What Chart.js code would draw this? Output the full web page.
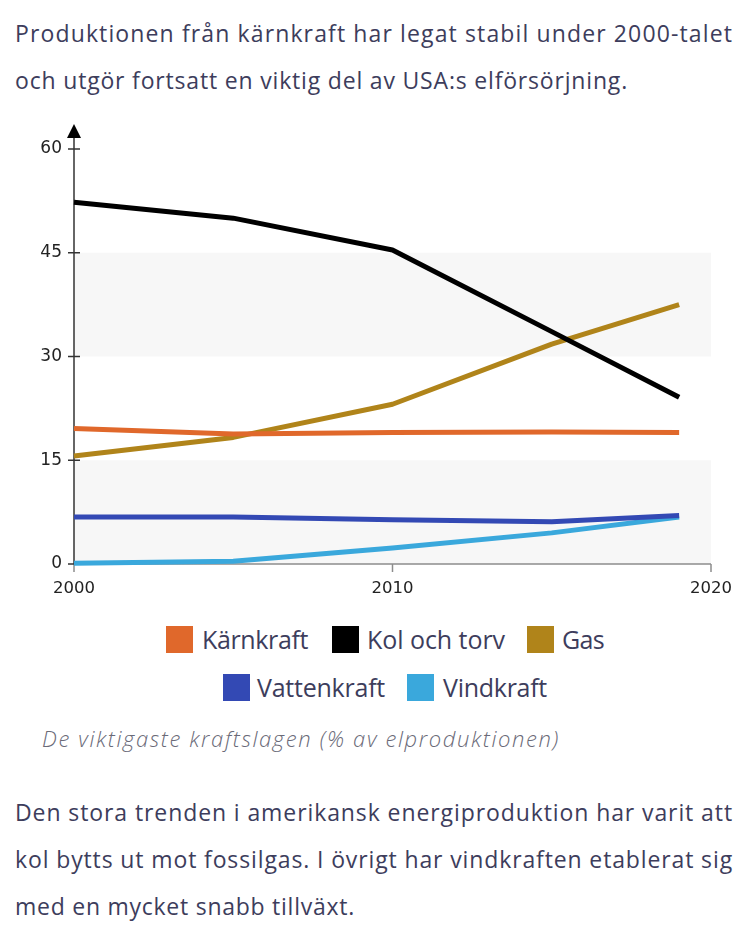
<!DOCTYPE html>
<html>
<head>
<meta charset="utf-8">
<script src="https://cdn.jsdelivr.net/npm/chart.js@4"></script>
<style>
  html,body{margin:0;padding:0;background:#fff;}
  body{width:750px;height:941px;position:relative;overflow:hidden;font-family:"Open Sans",sans-serif;color:#3d3d5c;}
  .line{position:absolute;left:15px;white-space:nowrap;font-size:23px;line-height:30px;}
  .cap{position:absolute;left:42px;white-space:nowrap;font-size:22px;font-style:italic;font-weight:300;color:#6a6a78;line-height:30px;}
  #chartBox{position:absolute;left:0;top:110px;width:750px;height:500px;}
  .legbox{position:absolute;width:27px;height:27px;}
  .legtxt{position:absolute;white-space:nowrap;font-size:25px;line-height:30px;}
</style>
</head>
<body>
<div class="line fit" data-w="718" style="top:18px">Produktionen från kärnkraft har legat stabil under 2000-talet</div>
<div class="line fit" data-w="613" style="top:65px">och utgör fortsatt en viktig del av USA:s elförsörjning.</div>
<div id="chartBox"><canvas id="c" width="750" height="500"></canvas></div>
<div id="legend"></div>
<div class="cap fit" data-w="518" style="top:723px">De viktigaste kraftslagen (% av elproduktionen)</div>
<div class="line fit" data-w="718" style="top:797px">Den stora trenden i amerikansk energiproduktion har varit att</div>
<div class="line fit" data-w="718" style="top:844px">kol bytts ut mot fossilgas. I övrigt har vindkraften etablerat sig</div>
<div class="line fit" data-w="340" style="top:891px">med en mycket snabb tillväxt.</div>
<script>
const years = [2000, 2005, 2010, 2015, 2019];
const seriesNames = ["Kärnkraft", "Kol och torv", "Gas", "Vattenkraft", "Vindkraft"];
const karnkraft = [19.6, 18.8, 19.0, 19.1, 19.0];
const kol = [52.3, 50.0, 45.4, 33.6, 24.1];
const gas = [15.6, 18.3, 23.1, 31.8, 37.5];
const vattenkraft = [6.8, 6.8, 6.4, 6.1, 7.0];
const vindkraft = [0.1, 0.4, 2.3, 4.5, 6.8];
const xTicks = [2000, 2010, 2020];
const yTicks = [0, 15, 30, 45, 60];
const colors = ["#e0682b", "#000000", "#b0841a", "#3349b4", "#3aa8dc"];

const allSeries = [karnkraft, kol, gas, vattenkraft, vindkraft];

// legend layout (box left, text left, text width, row top)
const legendLayout = [
  [166, 202, 106, 626],
  [332, 367, 138, 626],
  [527, 562, 42, 626],
  [223, 257, 128, 674],
  [407, 443, 104, 674]
];
const legend = document.getElementById('legend');
legendLayout.forEach(([bx, tx, tw, top], i) => {
  const b = document.createElement('div'); b.className = 'legbox';
  b.style.left = bx + 'px'; b.style.top = top + 'px'; b.style.background = colors[i];
  const t = document.createElement('div'); t.className = 'legtxt fit';
  t.dataset.w = tw; t.style.left = tx + 'px'; t.style.top = (top - 2) + 'px';
  t.textContent = seriesNames[i];
  legend.appendChild(b); legend.appendChild(t);
});

// fit text lines to target widths via letter-spacing
document.querySelectorAll('.fit').forEach(el => {
  const target = +el.dataset.w;
  const w = el.getBoundingClientRect().width;
  const n = el.textContent.length;
  el.style.letterSpacing = ((target - w) / n) + 'px';
});

const decor = {
  id:'decor',
  beforeDatasetsDraw(chart){
    const {ctx, chartArea:a, scales:{x,y}} = chart;
    ctx.save();
    ctx.fillStyle = '#f7f7f7';
    [[0,15],[30,45]].forEach(([lo,hi])=>{
      const y1 = y.getPixelForValue(hi), y0 = y.getPixelForValue(lo);
      ctx.fillRect(a.left, y1, a.right - a.left, y0 - y1);
    });
    // x axis
    ctx.strokeStyle = '#8c8c8c'; ctx.lineWidth = 1.5;
    ctx.beginPath(); ctx.moveTo(a.left, a.bottom); ctx.lineTo(a.right, a.bottom); ctx.stroke();
    xTicks.forEach(v=>{
      const px = x.getPixelForValue(v);
      ctx.beginPath(); ctx.moveTo(px, a.bottom); ctx.lineTo(px, a.bottom + 8); ctx.stroke();
    });
    // y axis
    ctx.strokeStyle = '#333'; ctx.lineWidth = 1.5;
    ctx.beginPath(); ctx.moveTo(a.left, a.bottom); ctx.lineTo(a.left, a.top - 14); ctx.stroke();
    yTicks.forEach(v=>{
      const py = y.getPixelForValue(v);
      ctx.beginPath(); ctx.moveTo(a.left - 6, py); ctx.lineTo(a.left + 6, py); ctx.stroke();
    });
    ctx.fillStyle = '#000';
    ctx.beginPath();
    ctx.moveTo(a.left, a.top - 25);
    ctx.lineTo(a.left - 7, a.top - 11);
    ctx.lineTo(a.left + 7, a.top - 11);
    ctx.closePath(); ctx.fill();
    ctx.restore();
  }
};

new Chart(document.getElementById('c'), {
  type:'line',
  data:{
    datasets: allSeries.map((s,i)=>({
      label: seriesNames[i],
      data: years.map((yr,j)=>({x:yr, y:s[j]})),
      borderColor: colors[i],
      backgroundColor: colors[i],
      borderWidth: 5,
      pointRadius: 0,
      tension: 0,
      borderJoinStyle: 'round',
      clip: false
    }))
  },
  options:{
    responsive:false,
    animation:false,
    devicePixelRatio: 1,
    layout:{padding:{top:39, right:39, left:0, bottom:0}},
    plugins:{legend:{display:false}, tooltip:{enabled:false}},
    scales:{
      x:{
        type:'linear', min:2000, max:2020,
        afterBuildTicks(s){ s.ticks = xTicks.map(v=>({value:v})); },
        afterFit(s){ s.height = 46; },
        grid:{display:false, drawTicks:false},
        border:{display:false},
        ticks:{padding:15, color:'#222', font:{family:'"DejaVu Sans"', size:16.5}, callback:v=>String(v), maxRotation:0}
      },
      y:{
        min:0, max:60,
        afterBuildTicks(s){ s.ticks = yTicks.map(v=>({value:v})); },
        afterFit(s){ s.width = 74; },
        grid:{display:false, drawTicks:false},
        border:{display:false},
        ticks:{padding:12, color:'#222', font:{family:'"DejaVu Sans"', size:17}}
      }
    }
  },
  plugins:[decor]
});
</script>
</body>
</html>
